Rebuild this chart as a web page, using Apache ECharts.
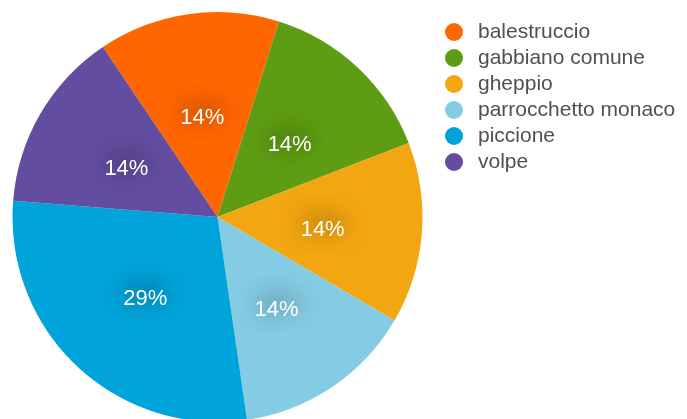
<!DOCTYPE html>
<html><head><meta charset="utf-8">
<script src="https://cdn.jsdelivr.net/npm/echarts@6/dist/echarts.min.js"></script>
<style>html,body{margin:0;padding:0;background:#fff}#c{width:687px;height:419px}</style>
</head><body><div id="c"></div>
<script>
const categories = ['balestruccio','gabbiano comune','gheppio','parrocchetto monaco','piccione','volpe'];
const values = [1,1,1,1,2,1];
const colors = ['#FF6600','#5E9D13','#F2A611','#84CCE3','#00A3DA','#634DA0'];
const chart = echarts.init(document.getElementById('c'));
chart.setOption({
  animation:false,
  color: colors,
  legend:{
    orient:'vertical', left:445, top:21, itemGap:4, padding:0,
    icon:'circle', itemWidth:18, itemHeight:18,
    textStyle:{fontFamily:'Liberation Sans, Arial, sans-serif', fontSize:21, lineHeight:22, color:'#505050', padding:[0,0,0,10]},
    data: categories
  },
  series:[{
    type:'pie', center:[217.5,217], radius:[0,205], startAngle:124, clockwise:true,
    label:{show:true, position:'inner', formatter: p => Math.round(p.percent)+'%',
      color:'#fff', fontSize:22, fontFamily:'Liberation Sans, Arial, sans-serif', offset:[0,5],
      textShadowColor:'rgba(0,0,0,0.75)', textShadowBlur:22, textShadowOffsetY:-5},
    labelLine:{show:false},
    itemStyle:{borderWidth:0},
    emphasis:{disabled:true},
    data: categories.map((n,i)=>({name:n, value:values[i]}))
  }]
});
</script></body></html>
